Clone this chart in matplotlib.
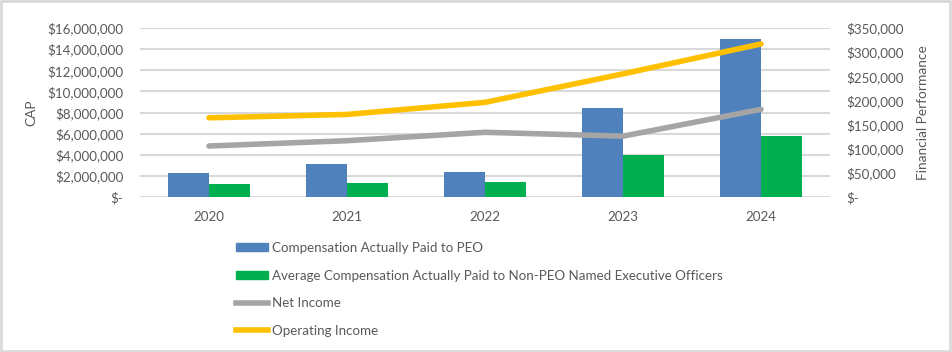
import matplotlib
matplotlib.use("Agg")
import matplotlib.pyplot as plt
import numpy as np
from matplotlib.patches import Patch, Rectangle
from matplotlib.lines import Line2D
from matplotlib.ticker import FuncFormatter

years = ["2020", "2021", "2022", "2023", "2024"]
cap_peo = [2240000, 3100000, 2400000, 8460000, 14930000]
cap_non_peo = [1230000, 1330000, 1420000, 3980000, 5780000]
net_income = [105600, 116600, 134000, 126000, 181500]
operating_income = [164000, 171000, 196000, 255000, 317000]

left_ticks = [0, 2000000, 4000000, 6000000, 8000000, 10000000, 12000000, 14000000, 16000000]
right_ticks = [0, 50000, 100000, 150000, 200000, 250000, 300000, 350000]

labels = ["Compensation Actually Paid to PEO",
          "Average Compensation Actually Paid to Non-PEO Named Executive Officers",
          "Net Income", "Operating Income"]

C_BLUE = "#4F81BD"
C_GREEN = "#00B050"
C_GRAY = "#A5A5A5"
C_GOLD = "#FFC000"
TXT = "#595959"
GRID = "#D9D9D9"

plt.rcParams['font.family'] = ['Lato', 'DejaVu Sans']
FS = 9.6

fig = plt.figure(figsize=(9.52, 3.52), dpi=100)
W, H = 952, 352
ax = fig.add_axes([140 / W, 1 - 197 / H, 690 / W, (197 - 28) / H])
ax2 = ax.twinx()

x = np.arange(len(years))
bw = 0.30
ax.bar(x - bw / 2, cap_peo, bw, color=C_BLUE, zorder=2)
ax.bar(x + bw / 2, cap_non_peo, bw, color=C_GREEN, zorder=2)
ax2.plot(x, net_income, color=C_GRAY, lw=4, solid_capstyle='round', zorder=3)
ax2.plot(x, operating_income, color=C_GOLD, lw=4, solid_capstyle='round', zorder=3)

ax.set_xlim(-0.5, len(years) - 0.5)
ax.set_ylim(0, 16000000)
ax2.set_ylim(0, 350000)
ax.set_yticks(left_ticks)
ax2.set_yticks(right_ticks)

def money(v, pos):
    return "$-" if v == 0 else "${:,.0f}".format(v)

ax.yaxis.set_major_formatter(FuncFormatter(money))
ax2.yaxis.set_major_formatter(FuncFormatter(money))
ax.set_xticks(x)
ax.set_xticklabels(years)

ax.grid(axis='y', color=GRID, lw=1.5, zorder=0)
ax.set_axisbelow(True)
for a in (ax, ax2):
    for s in a.spines.values():
        s.set_visible(False)
    a.tick_params(length=0, colors=TXT, labelsize=FS)
ax.tick_params(axis='y', pad=12)
ax2.tick_params(axis='y', pad=12)
ax.tick_params(axis='x', pad=10)
for lab in ax2.get_yticklabels():
    lab.set_ha('left')

ax.set_ylabel("CAP", color=TXT, fontsize=FS + 0.3, labelpad=7)
ax2.set_ylabel("Financial Performance", color=TXT, fontsize=FS + 0.3, labelpad=9)

handles = [Patch(color=C_BLUE), Patch(color=C_GREEN),
           Line2D([], [], color=C_GRAY, lw=4), Line2D([], [], color=C_GOLD, lw=4)]
fig.legend(handles, labels, loc='upper left', bbox_to_anchor=(236 / W, 1 - 242 / H),
           frameon=False, fontsize=FS, labelcolor=TXT, handlelength=2.4,
           handleheight=0.55, handletextpad=0.3, labelspacing=1.17,
           borderaxespad=0, borderpad=0)

fig.add_artist(Rectangle((0.001, 0.002), 0.997, 0.995, transform=fig.transFigure,
                         fill=False, edgecolor=GRID, lw=2))

fig.savefig("out.png", dpi=100, facecolor="white")
